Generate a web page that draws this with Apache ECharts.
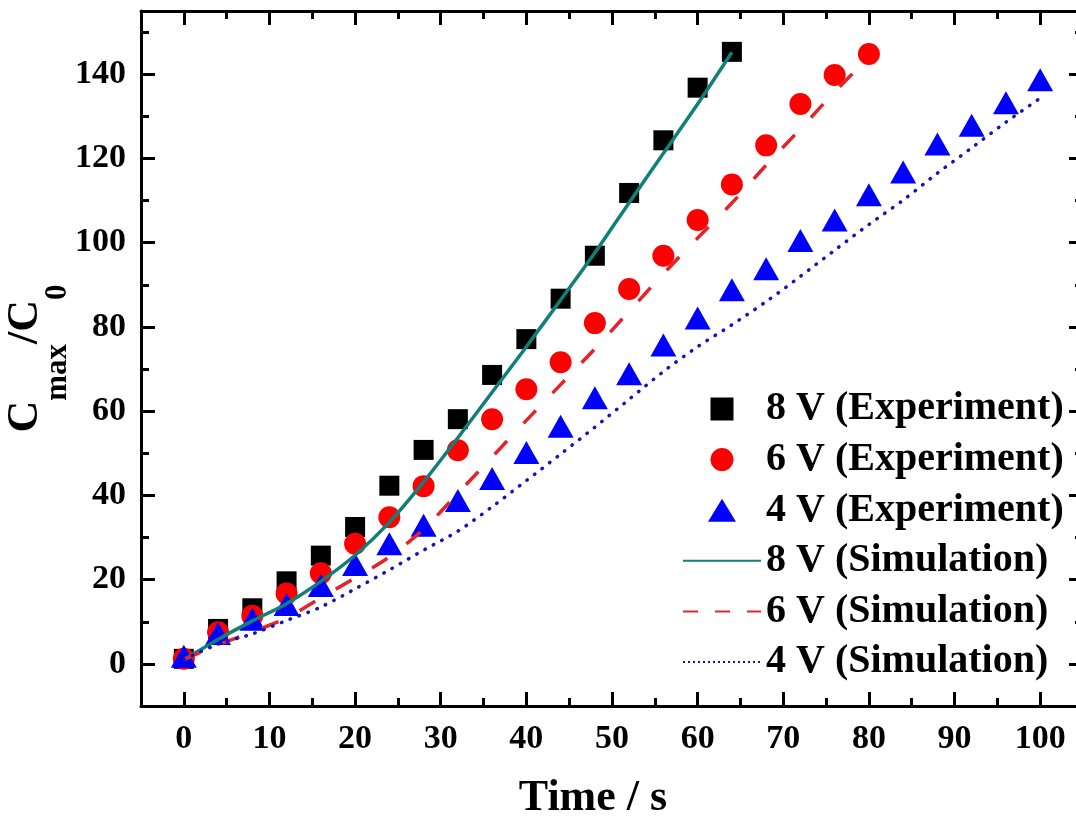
<!DOCTYPE html>
<html>
<head>
<meta charset="utf-8">
<script src="https://cdn.jsdelivr.net/npm/echarts@6/dist/echarts.min.js"></script>
<style>
  html, body { margin: 0; padding: 0; background: #fff; }
  #chart { width: 1076px; height: 816px; }
</style>
</head>
<body>
<div id="chart"></div>
<script>
// time points (s)
var time8 = [0, 4, 8, 12, 16, 20, 24, 28, 32, 36, 40, 44, 48, 52, 56, 60, 64];
var time6 = [0, 4, 8, 12, 16, 20, 24, 28, 32, 36, 40, 44, 48, 52, 56, 60, 64, 68, 72, 76, 80];
var time4 = [0, 4, 8, 12, 16, 20, 24, 28, 32, 36, 40, 44, 48, 52, 56, 60, 64, 68, 72, 76, 80, 84, 88, 92, 96, 100];

// Cmax/C0, experiment
var exp8 = [1.2, 8.3, 13.2, 19.6, 25.7, 32.5, 42.3, 50.8, 58.1, 68.6, 77.1, 86.7, 96.9, 111.8, 124.3, 136.8, 145.3];
var exp6 = [1.2, 7.5, 11.4, 16.7, 21.5, 28.5, 34.8, 42.2, 50.7, 58.1, 65.2, 71.6, 80.9, 89.0, 96.9, 105.4, 113.8, 123.1, 132.9, 139.8, 144.8];
var exp4 = [1.8, 7.2, 10.6, 14.1, 18.6, 23.6, 28.5, 32.9, 38.8, 44.0, 50.2, 56.4, 63.2, 68.9, 75.7, 82.1, 88.8, 93.8, 100.5, 105.4, 111.4, 116.8, 123.4, 127.9, 133.2, 138.7];

// Cmax/C0, simulation
var sim8 = [1, 5.8, 10.2, 14.3, 19.6, 25.8, 33.6, 43.2, 53.7, 64.5, 75.3, 86.4, 97.6, 109.5, 121.2, 132.9, 145.2];
var sim6 = [1, 4.5, 7.6, 10.9, 15.7, 20.4, 25.4, 32.0, 40.5, 49.1, 57.8, 66.3, 74.8, 83.7, 92.6, 101.1, 109.4, 118.4, 127.0, 135.8, 144.0];
var sim4 = [1, 4.7, 7.1, 10.3, 13.5, 17.8, 22.3, 27.0, 31.5, 37.3, 43.5, 49.8, 56.2, 62.8, 69.4, 75.3, 80.5, 86.0, 92.0, 98.2, 104.3, 110.1, 116.5, 122.5, 128.6, 134.3];

// ticks
var xMajor = [0, 10, 20, 30, 40, 50, 60, 70, 80, 90, 100];
var xMinor = [5, 15, 25, 35, 45, 55, 65, 75, 85, 95];
var yMajor = [0, 20, 40, 60, 80, 100, 120, 140];
var yMinor = [10, 30, 50, 70, 90, 110, 130, 150];

var names = ['8 V (Experiment)', '6 V (Experiment)', '4 V (Experiment)',
             '8 V (Simulation)', '6 V (Simulation)', '4 V (Simulation)'];

function pairs(t, v) {
    return t.map(function (x, i) { return [x, v[i]]; });
}

var FONT = '"Liberation Serif", "Times New Roman", "DejaVu Serif", serif';

// one frame side; minor ones only carry the short ticks
function frameAxis(pos, isX, minor, showLabel, showLine) {
    return {
        type: 'value',
        position: pos,
        min: isX ? -5 : -10,
        max: isX ? 105 : 155,
        splitLine: { show: false },
        axisLine: { show: showLine, onZero: false, lineStyle: { color: '#000', width: 3 } },
        axisTick: {
            show: true, inside: true,
            length: minor ? 8 : 14,
            lineStyle: { color: '#000', width: 3 },
            customValues: minor ? (isX ? xMinor : yMinor) : (isX ? xMajor : yMajor)
        },
        axisLabel: {
            show: showLabel,
            customValues: isX ? xMajor : yMajor,
            color: '#000',
            fontFamily: FONT,
            fontWeight: 'bold',
            fontSize: 34,
            margin: isX ? 16 : 15
        }
    };
}

var chart = echarts.init(document.getElementById('chart'));

var xAxes = [
    frameAxis('bottom', true, false, true, true),
    frameAxis('bottom', true, true, false, false),
    frameAxis('top', true, false, false, true),
    frameAxis('top', true, true, false, false)
];
xAxes[0].name = 'Time / s';
xAxes[0].nameLocation = 'middle';
xAxes[0].nameGap = 71;
xAxes[0].nameMoveOverlap = false;
xAxes[0].nameTextStyle = {
    color: '#000', fontFamily: FONT, fontWeight: 'bold', fontSize: 44,
    padding: [0, 38, 0, 0]
};

var yAxes = [
    frameAxis('left', false, false, true, true),
    frameAxis('left', false, true, false, false),
    frameAxis('right', false, false, false, true),
    frameAxis('right', false, true, false, false)
];
yAxes[0].name = '{b|C}{s|max}{b|/C}{s|0}';
yAxes[0].nameLocation = 'middle';
yAxes[0].nameRotate = 90;
yAxes[0].nameGap = 68;
yAxes[0].nameMoveOverlap = false;
yAxes[0].nameTextStyle = {
    color: '#000',
    rich: {
        b: { fontFamily: FONT, fontWeight: 'bold', fontSize: 44, color: '#000',
             verticalAlign: 'bottom', padding: [0, 0, 25, 0] },
        s: { fontFamily: FONT, fontWeight: 'bold', fontSize: 31, color: '#000',
             verticalAlign: 'bottom' }
    }
};

var lineBase = { type: 'line', showSymbol: false, symbol: 'none', smooth: 0.3, z: 3 };

// legend marker outlines (path icons keep their aspect)
var iconSquare = 'path://M0,0H20V20H0Z';
var iconCircle = 'path://M10,0A10,10 0 1,1 10,20A10,10 0 1,1 10,0Z';
var iconTriangle = 'path://M14,0L28,23L0,23Z';

chart.setOption({
    animation: false,
    backgroundColor: '#fff',
    // plot frame runs a few px past the right edge of the picture
    grid: { left: 141, top: 11, right: -7, bottom: 110, outerBoundsMode: 'none', containLabel: false },
    xAxis: xAxes,
    yAxis: yAxes,
    legend: {
        orient: 'vertical',
        left: 682,
        top: 389,
        padding: 0,
        itemWidth: 78,
        itemHeight: 23,
        itemGap: 10.6,
        symbolKeepAspect: true,
        textStyle: {
            color: '#000', fontFamily: FONT, fontWeight: 'bold', fontSize: 40, lineHeight: 40
        },
        data: [
            { name: names[0], icon: iconSquare, symbolKeepAspect: true, itemStyle: { color: '#000' } },
            { name: names[1], icon: iconCircle, symbolKeepAspect: true, itemStyle: { color: '#ff0000' } },
            { name: names[2], icon: iconTriangle, symbolKeepAspect: true, itemStyle: { color: '#0000ff' } },
            { name: names[3], itemStyle: { opacity: 0 } },
            { name: names[4], itemStyle: { opacity: 0 }, lineStyle: { type: [15, 17] } },
            { name: names[5], itemStyle: { opacity: 0 }, lineStyle: { type: [2, 3], cap: 'butt' } }
        ]
    },
    series: [
        { name: names[0], type: 'scatter', data: pairs(time8, exp8), symbol: 'rect',
          symbolSize: 20, itemStyle: { color: '#000', opacity: 1 }, z: 2 },
        { name: names[1], type: 'scatter', data: pairs(time6, exp6), symbol: 'circle',
          symbolSize: 22, itemStyle: { color: '#ff0000', opacity: 1 }, z: 2 },
        { name: names[2], type: 'scatter', data: pairs(time4, exp4), symbol: 'triangle',
          symbolSize: [26, 23], itemStyle: { color: '#0000ff', opacity: 1 }, z: 2 },
        Object.assign({}, lineBase, { name: names[3], data: pairs(time8, sim8),
          itemStyle: { color: '#0f8078' },
          lineStyle: { color: '#0f8078', width: 3.5 } }),
        Object.assign({}, lineBase, { name: names[4], data: pairs(time6, sim6),
          itemStyle: { color: '#e3242b' },
          lineStyle: { color: '#e3242b', width: 3.5, type: [18, 24] } }),
        Object.assign({}, lineBase, { name: names[5], data: pairs(time4, sim4),
          itemStyle: { color: '#1414b4' },
          lineStyle: { color: '#1414b4', width: 3.5, type: [0.5, 9], cap: 'round' } })
    ]
});
</script>
</body>
</html>
